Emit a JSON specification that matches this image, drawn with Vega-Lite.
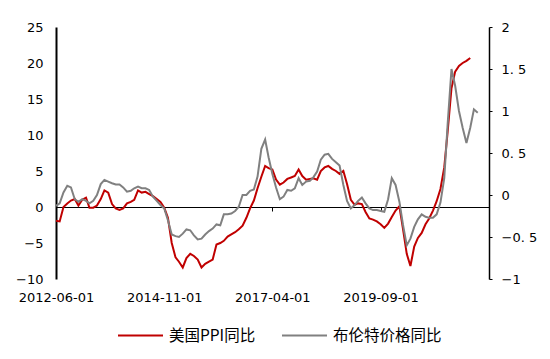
{
  "$schema": "https://vega.github.io/schema/vega-lite/v6.json",
  "width": 433,
  "height": 252,
  "autosize": {"type": "none"},
  "padding": {"left": 56, "top": 27, "right": 61, "bottom": 80},
  "background": "white",
  "config": {"view": {"stroke": null}, "axis": {"grid": false, "labelFont": "DejaVu Sans", "labelFontSize": 13, "labelColor": "#000000", "domainColor": "#000000", "tickColor": "#000000"}},
  "data": {"values": [
    {"d":"2012-06-01","ppi":-1.9,"brent":-0.13},
    {"d":"2012-07-01","ppi":-2.0,"brent":-0.1},
    {"d":"2012-08-01","ppi":0.0,"brent":0.03},
    {"d":"2012-09-01","ppi":0.5,"brent":0.11},
    {"d":"2012-10-01","ppi":0.9,"brent":0.09},
    {"d":"2012-11-01","ppi":1.1,"brent":-0.05},
    {"d":"2012-12-01","ppi":0.2,"brent":-0.08},
    {"d":"2013-01-01","ppi":1.0,"brent":-0.05},
    {"d":"2013-02-01","ppi":1.3,"brent":-0.07},
    {"d":"2013-03-01","ppi":-0.1,"brent":-0.1},
    {"d":"2013-04-01","ppi":-0.1,"brent":-0.07},
    {"d":"2013-05-01","ppi":0.2,"brent":0.0},
    {"d":"2013-06-01","ppi":1.1,"brent":0.13},
    {"d":"2013-07-01","ppi":2.3,"brent":0.18},
    {"d":"2013-08-01","ppi":2.0,"brent":0.16},
    {"d":"2013-09-01","ppi":0.4,"brent":0.14},
    {"d":"2013-10-01","ppi":-0.2,"brent":0.125},
    {"d":"2013-11-01","ppi":-0.4,"brent":0.125},
    {"d":"2013-12-01","ppi":-0.2,"brent":0.09},
    {"d":"2014-01-01","ppi":0.5,"brent":0.04},
    {"d":"2014-02-01","ppi":0.7,"brent":0.05},
    {"d":"2014-03-01","ppi":1.0,"brent":0.08},
    {"d":"2014-04-01","ppi":2.3,"brent":0.1},
    {"d":"2014-05-01","ppi":2.0,"brent":0.08},
    {"d":"2014-06-01","ppi":2.1,"brent":0.08},
    {"d":"2014-07-01","ppi":1.8,"brent":0.06},
    {"d":"2014-08-01","ppi":1.5,"brent":-0.02},
    {"d":"2014-09-01","ppi":1.1,"brent":-0.07},
    {"d":"2014-10-01","ppi":0.7,"brent":-0.12},
    {"d":"2014-11-01","ppi":-0.1,"brent":-0.16},
    {"d":"2014-12-01","ppi":-1.5,"brent":-0.3},
    {"d":"2015-01-01","ppi":-5.0,"brent":-0.47},
    {"d":"2015-02-01","ppi":-7.0,"brent":-0.49},
    {"d":"2015-03-01","ppi":-7.6,"brent":-0.5},
    {"d":"2015-04-01","ppi":-8.4,"brent":-0.46},
    {"d":"2015-05-01","ppi":-7.1,"brent":-0.41},
    {"d":"2015-06-01","ppi":-6.5,"brent":-0.42},
    {"d":"2015-07-01","ppi":-6.8,"brent":-0.48},
    {"d":"2015-08-01","ppi":-7.3,"brent":-0.53},
    {"d":"2015-09-01","ppi":-8.4,"brent":-0.52},
    {"d":"2015-10-01","ppi":-7.9,"brent":-0.47},
    {"d":"2015-11-01","ppi":-7.6,"brent":-0.43},
    {"d":"2015-12-01","ppi":-7.3,"brent":-0.4},
    {"d":"2016-01-01","ppi":-5.2,"brent":-0.35},
    {"d":"2016-02-01","ppi":-5.0,"brent":-0.36},
    {"d":"2016-03-01","ppi":-4.7,"brent":-0.23},
    {"d":"2016-04-01","ppi":-4.1,"brent":-0.23},
    {"d":"2016-05-01","ppi":-3.8,"brent":-0.22},
    {"d":"2016-06-01","ppi":-3.5,"brent":-0.19},
    {"d":"2016-07-01","ppi":-3.1,"brent":-0.14},
    {"d":"2016-08-01","ppi":-2.6,"brent":0.0},
    {"d":"2016-09-01","ppi":-1.5,"brent":0.0},
    {"d":"2016-10-01","ppi":-0.2,"brent":0.05},
    {"d":"2016-11-01","ppi":0.9,"brent":0.065},
    {"d":"2016-12-01","ppi":2.6,"brent":0.22},
    {"d":"2017-01-01","ppi":4.2,"brent":0.55},
    {"d":"2017-02-01","ppi":5.7,"brent":0.66},
    {"d":"2017-03-01","ppi":5.4,"brent":0.45},
    {"d":"2017-04-01","ppi":5.2,"brent":0.25},
    {"d":"2017-05-01","ppi":3.8,"brent":0.09},
    {"d":"2017-06-01","ppi":3.1,"brent":-0.05},
    {"d":"2017-07-01","ppi":3.4,"brent":-0.02},
    {"d":"2017-08-01","ppi":3.9,"brent":0.06},
    {"d":"2017-09-01","ppi":4.1,"brent":0.05},
    {"d":"2017-10-01","ppi":4.3,"brent":0.08},
    {"d":"2017-11-01","ppi":5.2,"brent":0.2},
    {"d":"2017-12-01","ppi":4.3,"brent":0.12},
    {"d":"2018-01-01","ppi":3.8,"brent":0.16},
    {"d":"2018-02-01","ppi":3.9,"brent":0.17},
    {"d":"2018-03-01","ppi":4.0,"brent":0.21},
    {"d":"2018-04-01","ppi":3.8,"brent":0.28},
    {"d":"2018-05-01","ppi":5.0,"brent":0.42},
    {"d":"2018-06-01","ppi":5.5,"brent":0.48},
    {"d":"2018-07-01","ppi":5.7,"brent":0.49},
    {"d":"2018-08-01","ppi":5.3,"brent":0.43},
    {"d":"2018-09-01","ppi":5.0,"brent":0.39},
    {"d":"2018-10-01","ppi":4.6,"brent":0.35},
    {"d":"2018-11-01","ppi":5.0,"brent":0.12},
    {"d":"2018-12-01","ppi":3.2,"brent":-0.07},
    {"d":"2019-01-01","ppi":1.0,"brent":-0.16},
    {"d":"2019-02-01","ppi":0.3,"brent":-0.12},
    {"d":"2019-03-01","ppi":0.5,"brent":-0.07},
    {"d":"2019-04-01","ppi":0.4,"brent":-0.03},
    {"d":"2019-05-01","ppi":-0.7,"brent":-0.1},
    {"d":"2019-06-01","ppi":-1.6,"brent":-0.16},
    {"d":"2019-07-01","ppi":-1.75,"brent":-0.18},
    {"d":"2019-08-01","ppi":-2.0,"brent":-0.18},
    {"d":"2019-09-01","ppi":-2.4,"brent":-0.19},
    {"d":"2019-10-01","ppi":-2.9,"brent":-0.2},
    {"d":"2019-11-01","ppi":-2.3,"brent":-0.05},
    {"d":"2019-12-01","ppi":-1.4,"brent":0.2},
    {"d":"2020-01-01","ppi":-0.5,"brent":0.12},
    {"d":"2020-02-01","ppi":0.1,"brent":-0.08},
    {"d":"2020-03-01","ppi":-3.0,"brent":-0.35},
    {"d":"2020-04-01","ppi":-6.5,"brent":-0.6},
    {"d":"2020-05-01","ppi":-8.2,"brent":-0.52},
    {"d":"2020-06-01","ppi":-5.5,"brent":-0.38},
    {"d":"2020-07-01","ppi":-4.3,"brent":-0.29},
    {"d":"2020-08-01","ppi":-3.6,"brent":-0.23},
    {"d":"2020-09-01","ppi":-2.4,"brent":-0.26},
    {"d":"2020-10-01","ppi":-1.6,"brent":-0.27},
    {"d":"2020-11-01","ppi":-0.5,"brent":-0.27},
    {"d":"2020-12-01","ppi":0.8,"brent":-0.23},
    {"d":"2021-01-01","ppi":2.5,"brent":-0.09},
    {"d":"2021-02-01","ppi":5.5,"brent":0.2},
    {"d":"2021-03-01","ppi":10.5,"brent":0.85},
    {"d":"2021-04-01","ppi":16.5,"brent":1.5},
    {"d":"2021-05-01","ppi":18.8,"brent":1.3},
    {"d":"2021-06-01","ppi":19.6,"brent":1.0},
    {"d":"2021-07-01","ppi":20.0,"brent":0.8},
    {"d":"2021-08-01","ppi":20.3,"brent":0.62},
    {"d":"2021-09-01","ppi":20.7,"brent":0.8},
    {"d":"2021-10-01","ppi":null,"brent":1.02},
    {"d":"2021-11-01","ppi":null,"brent":0.98}
  ]},
  "resolve": {"scale": {"y": "independent"}, "axis": {"x": "independent"}},
  "layer": [
    {
      "mark": {"type": "line", "strokeWidth": 2},
      "encoding": {
        "x": {"field": "d", "type": "temporal",
          "scale": {"type": "utc", "domain": [{"year": 2012, "month": 6, "date": 1, "utc": true}, {"year": 2022, "month": 2, "date": 1, "utc": true}]},
          "axis": {"orient": "bottom", "title": null, "domain": false, "ticks": false, "labelPadding": 12,
            "values": [{"year": 2012, "month": 6, "date": 1, "utc": true}, {"year": 2014, "month": 11, "date": 1, "utc": true}, {"year": 2017, "month": 4, "date": 1, "utc": true}, {"year": 2019, "month": 9, "date": 1, "utc": true}],
            "labelExpr": "utcFormat(datum.value, '%Y-%m-%d')", "labelFlush": false, "labelOverlap": false}},
        "y": {"field": "ppi", "type": "quantitative",
          "scale": {"domain": [-10, 25], "nice": false, "zero": false},
          "axis": {"orient": "left", "title": null, "values": [-10, -5, 0, 5, 10, 15, 20, 25], "ticks": false, "labelPadding": 13, "domainWidth": 2}},
        "color": {"datum": "美国PPI同比", "type": "nominal",
          "scale": {"domain": ["美国PPI同比", "布伦特价格同比"], "range": ["#C00000", "#808080"]},
          "legend": {"title": null, "orient": "none", "legendX": 61, "legendY": 285, "direction": "horizontal",
            "symbolType": "stroke", "symbolSize": 2025, "symbolStrokeWidth": 2,
            "labelFont": "Noto Sans CJK SC", "labelFontSize": 15.5, "labelColor": "#000000", "labelOffset": 5, "columnPadding": 22, "padding": 0}}
      }
    },
    {
      "mark": {"type": "line", "strokeWidth": 2},
      "encoding": {
        "x": {"field": "d", "type": "temporal",
          "axis": {"orient": "bottom", "title": null, "offset": -72, "labels": false, "domain": true, "ticks": true, "tickSize": 4,
            "values": [{"year": 2012, "month": 6, "date": 1, "utc": true}, {"year": 2014, "month": 11, "date": 1, "utc": true}, {"year": 2017, "month": 4, "date": 1, "utc": true}, {"year": 2019, "month": 9, "date": 1, "utc": true}]}},
        "y": {"field": "brent", "type": "quantitative",
          "scale": {"domain": [-1, 2], "nice": false, "zero": false},
          "axis": {"orient": "right", "title": null, "values": [-1, -0.5, 0, 0.5, 1, 1.5, 2], "ticks": true, "tickSize": 3, "labelPadding": 9,
            "labelExpr": "replace(format(datum.value, ''), '.', '. ')", "domainWidth": 1.5}},
        "color": {"datum": "布伦特价格同比", "type": "nominal"}
      }
    }
  ]
}
